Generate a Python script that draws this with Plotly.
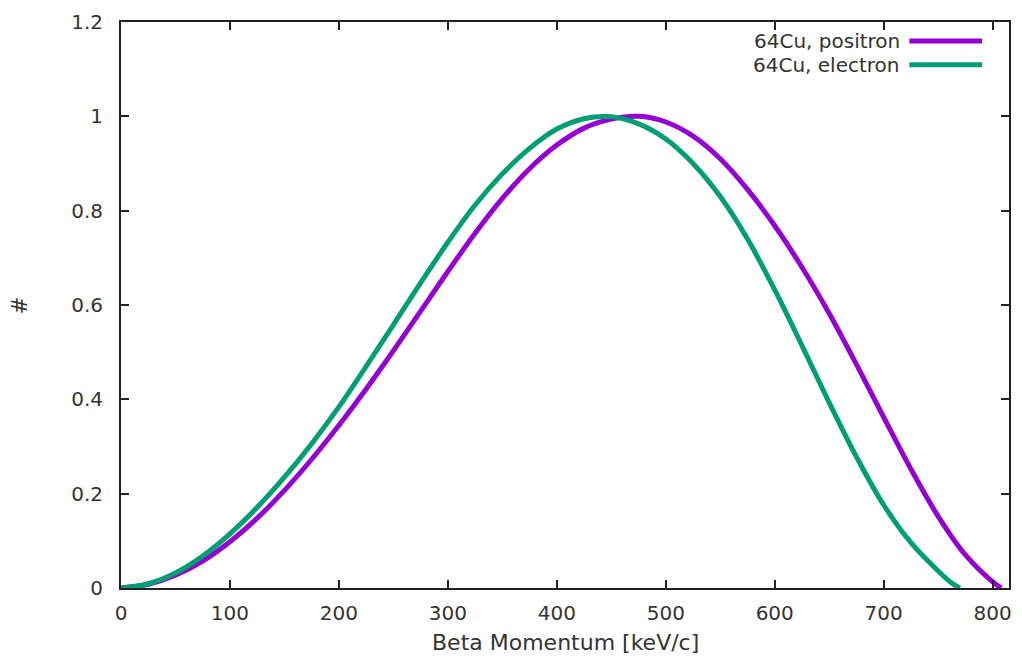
import plotly.graph_objects as go

# Beta momentum [keV/c] and normalised counts
electron_p = [0, 25, 50, 75, 100, 125, 150, 175, 200, 225, 250, 275, 300, 325, 350, 375,
              400, 425, 450, 475, 500, 525, 550, 575, 600, 625, 650, 675, 700, 725, 750, 762, 770]
electron_n = [0, 0.009, 0.032, 0.068, 0.115, 0.171, 0.235, 0.306, 0.384, 0.47, 0.558, 0.647, 0.733, 0.812, 0.878, 0.932,
              0.973, 0.995, 0.999, 0.984, 0.952, 0.9, 0.83, 0.74, 0.632, 0.514, 0.393, 0.278, 0.176, 0.096, 0.036, 0.011, 0.0]

positron_p = [0, 25, 50, 75, 100, 125, 150, 175, 200, 225, 250, 275, 300, 325, 350, 375,
              400, 425, 450, 475, 500, 525, 550, 575, 600, 625, 650, 675, 700, 725, 750, 775, 800, 808]
positron_n = [0, 0.008, 0.027, 0.057, 0.098, 0.148, 0.207, 0.273, 0.345, 0.422, 0.503, 0.587, 0.671, 0.752, 0.826, 0.889,
              0.939, 0.975, 0.994, 1.0, 0.988, 0.958, 0.91, 0.845, 0.768, 0.68, 0.582, 0.474, 0.362, 0.252, 0.152, 0.07, 0.013, 0.0]

series_names = ["64Cu, positron", "64Cu, electron"]
series_colors = ["#9400D3", "#009E73"]

x_ticks = [0, 100, 200, 300, 400, 500, 600, 700, 800]
y_ticks = [0, 0.2, 0.4, 0.6, 0.8, 1.0, 1.2]
y_ticktext = ["0", "0.2", "0.4", "0.6", "0.8", "1", "1.2"]

FONT = "DejaVu Sans"
TXT = "#333333"

fig = go.Figure()
fig.add_trace(go.Scatter(x=positron_p, y=positron_n, mode="lines", name=series_names[0],
                         line=dict(color=series_colors[0], width=5, shape="spline", smoothing=1.0)))
fig.add_trace(go.Scatter(x=electron_p, y=electron_n, mode="lines", name=series_names[1],
                         line=dict(color=series_colors[1], width=5, shape="spline", smoothing=1.0)))

axis_common = dict(showgrid=False, zeroline=False, showline=True, linecolor="#222222", linewidth=2,
                   mirror="allticks", ticks="inside", ticklen=8, tickwidth=1.5, tickcolor="#222222",
                   tickfont=dict(family=FONT, size=20, color=TXT))

fig.update_xaxes(range=[0, 815], tickvals=x_ticks, ticktext=[str(v) for v in x_ticks],
                 ticklabelstandoff=6, **axis_common)
fig.update_yaxes(range=[0, 1.2], tickvals=y_ticks, ticktext=y_ticktext,
                 ticklabelstandoff=12, **axis_common)

annotations = [
    dict(text="Beta Momentum [keV/c]", xref="paper", yref="paper", x=0.5, y=-0.097,
         xanchor="center", yanchor="middle", showarrow=False,
         font=dict(family=FONT, size=22, color=TXT)),
    dict(text="#", xref="paper", yref="paper", x=-0.1134, y=0.5, textangle=-90,
         xanchor="center", yanchor="middle", showarrow=False,
         font=dict(family=FONT, size=21, color=TXT)),
]
shapes = []
legend_y = [0.9665, 0.9243]
for name, color, ly in zip(series_names, series_colors, legend_y):
    annotations.append(dict(text=name, xref="paper", yref="paper", x=0.879, y=ly,
                            xanchor="right", yanchor="middle", showarrow=False,
                            font=dict(family=FONT, size=20, color=TXT)))
    shapes.append(dict(type="line", xref="paper", yref="paper", x0=0.8878, x1=0.9697, y0=ly, y1=ly,
                       line=dict(color=color, width=5)))

fig.update_layout(
    width=1022, height=659,
    margin=dict(l=121, r=10, t=20, b=71),
    paper_bgcolor="white", plot_bgcolor="white",
    showlegend=False,
    annotations=annotations, shapes=shapes,
    font=dict(family=FONT, color=TXT),
)

fig.write_html("out.html")
